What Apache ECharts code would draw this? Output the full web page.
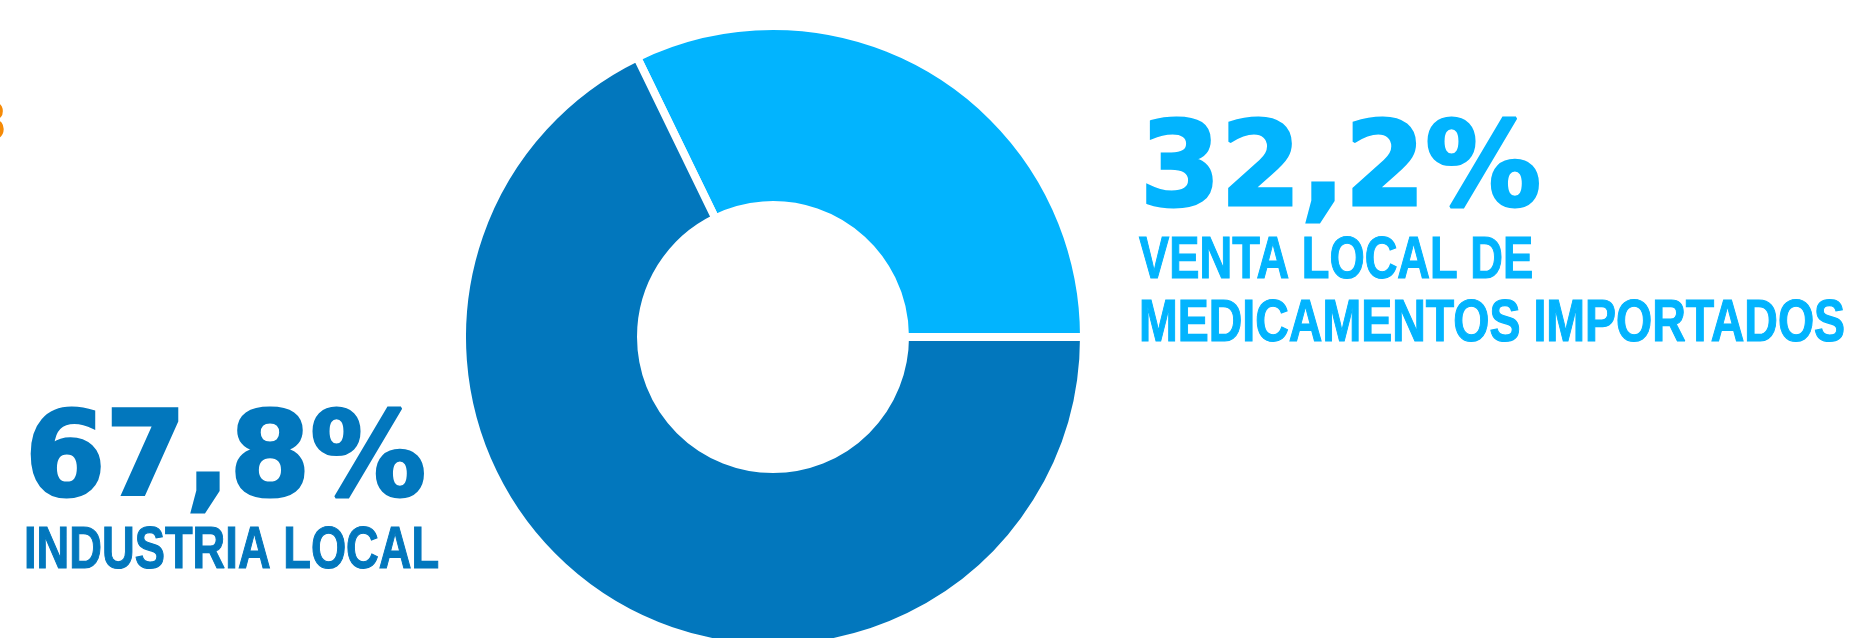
<!DOCTYPE html>
<html>
<head>
<meta charset="utf-8">
<script src="https://cdn.jsdelivr.net/npm/echarts@6/dist/echarts.min.js"></script>
<style>
  html, body { margin: 0; padding: 0; background: #ffffff; }
  #chart { width: 1850px; height: 638px; }
</style>
</head>
<body>
<div id="chart"></div>
<script>
// ---- data ----
var categories = ['VENTA LOCAL DE MEDICAMENTOS IMPORTADOS', 'INDUSTRIA LOCAL'];
var labelLines = [['VENTA LOCAL DE', 'MEDICAMENTOS IMPORTADOS'], ['INDUSTRIA LOCAL']];
var values = [32.2, 67.8];
var colors = ['#02B4FE', '#0277BD'];

function pct(v) { return v.toFixed(1).replace('.', ',') + '%'; }

var chart = echarts.init(document.getElementById('chart'), null, { renderer: 'canvas' });

var bigFont = 'bold 118px "DejaVu Sans", sans-serif';
var capFont = 'bold 60px "Liberation Sans", Arial, sans-serif';

function txt(str, x, y, font, color, sx, align, sw) {
  return {
    type: 'text', silent: true, x: x, y: y, scaleX: sx, scaleY: 1,
    style: {
      text: str, x: 0, y: 0, font: font, fill: color,
      stroke: sw ? color : null, lineWidth: sw || 0,
      textAlign: align || 'left', textVerticalAlign: 'middle'
    }
  };
}

var option = {
  backgroundColor: '#ffffff',
  animation: false,
  series: [{
    type: 'pie',
    silent: true,
    center: [773, 337],
    radius: [132, 311],
    startAngle: 0,
    clockwise: false,
    label: { show: false },
    labelLine: { show: false },
    itemStyle: { borderColor: '#ffffff', borderWidth: 8 },
    data: values.map(function (v, i) {
      return { name: categories[i], value: v, itemStyle: { color: colors[i] } };
    })
  }],
  graphic: [
    txt('3', 7, 127, 'bold 51px "DejaVu Sans", sans-serif', '#F58A07', 1, 'right', 1.5),
    txt(pct(values[0]), 1140, 174, bigFont, colors[0], 0.98, 'left', 3),
    txt(labelLines[0][0], 1139, 261, capFont, colors[0], 0.755, 'left', 1.2),
    txt(labelLines[0][1], 1139, 324, capFont, colors[0], 0.775, 'left', 1.2),
    txt(pct(values[1]), 25, 464, bigFont, colors[1], 0.98, 'left', 3),
    txt(labelLines[1][0], 24, 551, capFont, colors[1], 0.755, 'left', 1.2)
  ]
};

chart.setOption(option);
</script>
</body>
</html>
